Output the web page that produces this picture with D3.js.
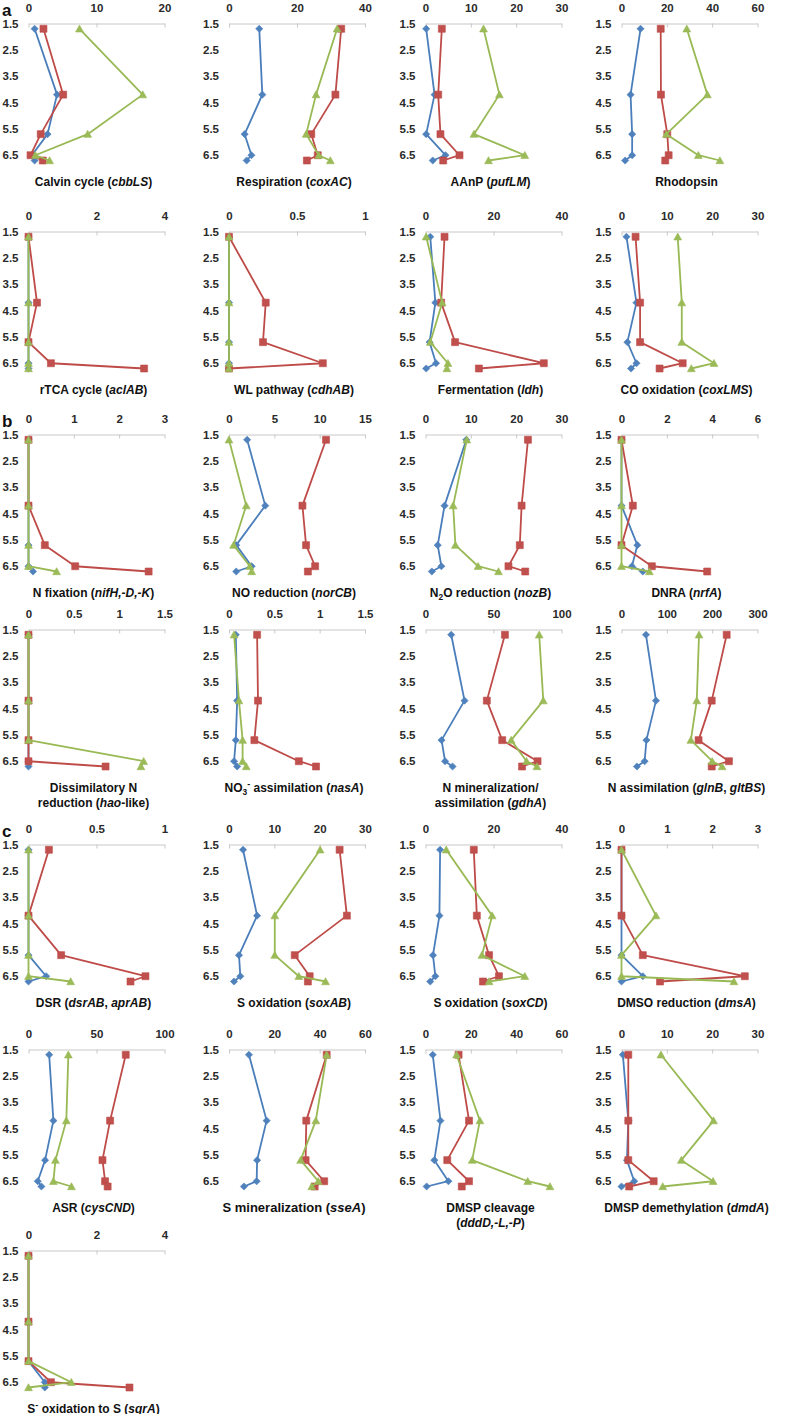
<!DOCTYPE html>
<html><head><meta charset="utf-8">
<script src="https://cdn.jsdelivr.net/npm/d3@7"></script>
<style>
body{margin:0;background:#fff;}
svg{display:block;font-family:"Liberation Sans",Arial,sans-serif;}
</style></head><body>
<svg id="chart" width="788" height="1414"></svg>
<script>
// ---------------- data ----------------
const depths = [1.7, 4.2, 5.7, 6.5, 6.7];
const depthTicks = [1.5, 2.5, 3.5, 4.5, 5.5, 6.5];
const sectionLabels = ["a", "b", "c"];
const panelTitles = [
  ["Calvin cycle (*cbbLS*)"],
  ["Respiration (*coxAC*)"],
  ["AAnP (*pufLM*)"],
  ["Rhodopsin"],
  ["rTCA cycle (*aclAB*)"],
  ["WL pathway (*cdhAB*)"],
  ["Fermentation (*ldh*)"],
  ["CO oxidation (*coxLMS*)"],
  ["N fixation (*nifH,-D,-K*)"],
  ["NO reduction (*norCB*)"],
  ["N_2O reduction (*nozB*)"],
  ["DNRA (*nrfA*)"],
  ["Dissimilatory N", "reduction (*hao*-like)"],
  ["NO_3^- assimilation (*nasA*)"],
  ["N mineralization/", "assimilation (*gdhA*)"],
  ["N assimilation (*glnB*, *gltBS*)"],
  ["DSR (*dsrAB*, *aprAB*)"],
  ["S oxidation (*soxAB*)"],
  ["S oxidation (*soxCD*)"],
  ["DMSO reduction (*dmsA*)"],
  ["ASR (*cysCND*)"],
  ["S mineralization (*sseA*)"],
  ["DMSP cleavage", "(*dddD,-L,-P*)"],
  ["DMSP demethylation (*dmdA*)"],
  ["S^- oxidation to S (*sqrA*)"]
];
const xMax  = [20, 40, 30, 60, 4, 1, 40, 30, 3, 15, 30, 6, 1.5, 1.5, 100, 300, 1, 30, 40, 3, 100, 60, 60, 30, 4];
const xStep = [10, 20, 10, 20, 2, 0.5, 20, 10, 1, 5, 10, 2, 0.5, 0.5, 50, 100, 0.5, 10, 20, 1, 50, 20, 20, 10, 2];

const blueValues = [
  [0.9, 4.2, 2.8, 0.5, 0.9],
  [8.9, 9.8, 4.6, 6.6, 5.2],
  [0.15, 2.0, 0.15, 4.4, 1.6],
  [8.4, 4.0, 4.7, 4.7, 1.6],
  [0, 0, 0, 0, 0],
  [0, 0, 0, 0, 0],
  [1.4, 2.9, 1.2, 3.1, 0.2],
  [1.1, 3.3, 1.3, 3.3, 2.1],
  [0, 0, 0, 0, 0.1],
  [2.0, 4.0, 0.8, 2.5, 0.8],
  [9.0, 4.2, 2.7, 3.5, 1.4],
  [0, 0, 0.7, 0.46, 0.94],
  [0, 0, 0, 0, 0],
  [0.075, 0.09, 0.075, 0.056, 0.09],
  [18.9, 28.7, 11.8, 14.4, 19.9],
  [54, 76, 55, 51, 34],
  [0, 0, 0, 0.13, 0],
  [3.1, 6.2, 2.2, 2.5, 1.1],
  [4.3, 4.1, 2.2, 2.9, 1.4],
  [0, 0, 0, 0.47, 0],
  [15.2, 18.3, 12.2, 6.8, 9.5],
  [8.8, 16.6, 12.4, 12.2, 6.6],
  [3.2, 6.6, 3.9, 10.1, 0.5],
  [0.3, 1.5, 1.2, 2.8, 0],
  [0, 0, 0, 0.48, 0.48]
];
const redValues = [
  [2.2, 5.1, 1.8, 0.3, 2.1],
  [33, 31.3, 24.2, 26.1, 22.9],
  [3.6, 2.8, 3.3, 7.5, 3.9],
  [17.3, 17.4, 20.2, 20.8, 19.3],
  [0, 0.25, 0, 0.66, 3.4],
  [0, 0.27, 0.25, 0.69, 0],
  [5.6, 4.6, 8.7, 34.8, 15.7],
  [3.1, 4.1, 4.1, 13.5, 8.4],
  [0, 0, 0.36, 1.03, 2.65],
  [10.7, 8.1, 8.5, 9.5, 8.7],
  [22.6, 21.2, 20.8, 18.3, 22.0],
  [0, 0.5, 0, 1.34, 3.78],
  [0, 0, 0, 0, 0.85],
  [0.31, 0.32, 0.28, 0.77, 0.96],
  [58.4, 45.1, 56.4, 82.4, 71],
  [232, 199, 170, 237, 199],
  [0.15, 0, 0.24, 0.86, 0.75],
  [24.4, 26, 14.5, 17.8, 17.4],
  [14.2, 15.1, 18.7, 21.6, 16.9],
  [0, 0, 0.47, 2.72, 0.85],
  [71.5, 60, 54.4, 56.3, 58.2],
  [43.1, 34.1, 33.8, 42, 37.8],
  [14.6, 19.2, 9.6, 19.2, 16],
  [1.5, 1.5, 1.5, 7.1, 1.7],
  [0, 0, 0, 0.66, 2.97]
];
const greenValues = [
  [7.5, 16.8, 8.7, 1.0, 3.1],
  [31.8, 25.6, 22.7, 26.4, 29.8],
  [12.8, 16.3, 10.7, 21.9, 13.9],
  [28.8, 37.9, 19.8, 33.9, 43.4],
  [0, 0, 0, 0, 0],
  [0, 0, 0, 0, 0],
  [0.2, 4.9, 1.4, 6.6, 6.3],
  [12.4, 13.3, 13.3, 20.4, 15.4],
  [0, 0, 0, 0, 0.62],
  [0, 1.9, 0.5, 2.3, 2.5],
  [9.1, 6.1, 6.6, 11.6, 16.1],
  [0, 0, 0, 0, 1.23],
  [0, 0, 0, 1.27, 1.24],
  [0.056, 0.11, 0.15, 0.15, 0.19],
  [83.6, 86.6, 63, 74.3, 81.9],
  [171, 166, 153, 200, 222],
  [0, 0, 0, 0, 0.31],
  [20.1, 10.1, 10.1, 15.4, 21.3],
  [6.1, 19.6, 16.6, 29.2, 18.7],
  [0, 0.76, 0, 0, 2.48],
  [29.3, 27.8, 19.8, 18.3, 31.6],
  [43.1, 38.3, 31.6, 39.4, 36.5],
  [13.7, 24, 20.6, 45.1, 54.9],
  [8.7, 20.3, 13.2, 20.2, 9.1],
  [0, 0, 0, 1.26, 0]
];

// ---------------- layout / style ----------------
const colX = [28.5, 229, 425.5, 621.5];
const rowY = [23.5, 231.5, 434.5, 629.5, 844.5, 1049.5, 1250.5];
const sectionRows = [0, 2, 4];
const plotW = 136, plotH = 137;
const series = [
  {values: blueValues, color: "#4A7EBB", fill: "#4F81BD", shape: "diamond"},
  {values: redValues, color: "#BE4B48", fill: "#C0504D", shape: "square"},
  {values: greenValues, color: "#98B954", fill: "#9BBB59", shape: "triangle"}
];

function markerPath(shape) {
  if (shape === "diamond") return "M0,-3.6L3.6,0L0,3.6L-3.6,0Z";
  if (shape === "square") return "M-3.5,-3.5H3.5V3.5H-3.5Z";
  return "M0,-3.8L3.9,3.2H-3.9Z";
}

function richText(textSel, str, size) {
  const tokens = str.split(/(\*[^*]+\*|_.|\^.)/).filter(t => t.length);
  let offset = 0;
  tokens.forEach(tok => {
    let content = tok, italic = false, target = 0, fs = size;
    if (tok[0] === "*") { content = tok.slice(1, -1); italic = true; }
    else if (tok[0] === "_") { content = tok.slice(1); target = 3; fs = size * 0.7; }
    else if (tok[0] === "^") { content = tok.slice(1); target = -5; fs = size * 0.75; }
    const ts = textSel.append("tspan").text(content)
      .attr("font-size", fs).attr("dy", target - offset);
    if (italic) ts.attr("font-style", "italic");
    offset = target;
  });
}

const svg = d3.select("#chart");

sectionRows.forEach((r, i) => {
  svg.append("text").attr("x", 2).attr("y", rowY[r] - 8)
    .attr("font-size", 17).attr("font-weight", "bold").attr("fill", "#111")
    .text(sectionLabels[i]);
});

panelTitles.forEach((title, i) => {
  const row = Math.floor(i / 4), col = i % 4;
  const x0 = colX[col], y0 = rowY[row];
  const g = svg.append("g").attr("transform", `translate(${x0},${y0})`);

  const x = d3.scaleLinear().domain([0, xMax[i]]).range([0, plotW]);
  const y = d3.scaleLinear().domain([1.5, 6.7]).range([0, plotH]);
  const xt = d3.range(0, xMax[i] + xStep[i] / 2, xStep[i]);

  const xa = g.append("g").call(d3.axisTop(x).tickValues(xt)
      .tickFormat(v => String(+v.toFixed(2))).tickSizeInner(-4).tickSizeOuter(0).tickPadding(12));
  xa.select(".domain").attr("stroke", "#C8C8C8");
  xa.selectAll(".tick line").attr("stroke", "#C8C8C8");
  xa.selectAll("text").attr("font-size", 11.5).attr("font-weight", "bold").attr("fill", "#2a2a2a")
    .attr("font-family", "Liberation Sans, Arial, sans-serif");

  const ya = g.append("g").call(d3.axisLeft(y).tickValues(depthTicks)
      .tickFormat(d3.format(".1f")).tickSize(0).tickPadding(10));
  ya.select(".domain").remove();
  ya.selectAll("text").attr("font-size", 11.5).attr("font-weight", "bold").attr("fill", "#2a2a2a")
    .attr("font-family", "Liberation Sans, Arial, sans-serif");

  const line = d3.line().x(d => x(d.v)).y(d => y(d.d));
  series.forEach(s => {
    const pts = depths.map((d, k) => ({d: d, v: s.values[i][k]}));
    g.append("path").datum(pts).attr("d", line)
      .attr("fill", "none").attr("stroke", s.color).attr("stroke-width", 1.8)
      .attr("stroke-linejoin", "round");
    g.selectAll(null).data(pts).enter().append("path")
      .attr("d", markerPath(s.shape))
      .attr("transform", d => `translate(${x(d.v)},${y(d.d)})`)
      .attr("fill", s.fill).attr("stroke", s.color).attr("stroke-width", 0.6);
  });

  const fs = i === 21 ? 13 : 12;
  title.forEach((ln, li) => {
    const t = g.append("text").attr("x", plotW / 2 - 3).attr("y", 162 + li * 15)
      .attr("text-anchor", "middle").attr("font-weight", "bold")
      .attr("font-size", fs).attr("fill", "#111");
    richText(t, ln, fs);
  });
});
</script>
</body></html>
